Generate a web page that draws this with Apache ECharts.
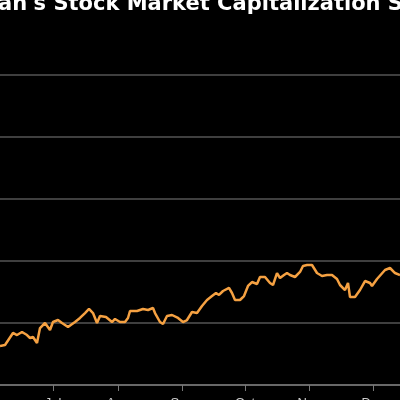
<!DOCTYPE html>
<html><head><meta charset="utf-8">
<script src="https://cdn.jsdelivr.net/npm/echarts@6/dist/echarts.min.js"></script>
<style>html,body{margin:0;background:#000}#c{width:400px;height:400px}</style>
</head><body><div id="c"></div>
<script>
const xs=[0,5,13,17,22,27,30,33,37,40,45,50,53,58,62,68,75,80,85,89,93,97,100,106,112,115,120,125,128,130,137,143,148,153,155,160,163,167,172,178,183,187,192,197,202,207,212,216,219,223,229,232,235,240,244,248,252,257,260,265,270,273,277,280,284,287,290,295,300,303,307,312,317,322,327,332,337,340,345,348,350,355,360,365,370,372,377,385,390,395,400];
const ys=[346,345,333,335,332,335,338,337,343,328,323,330,322,320,323,327,322,318,313,309,313,323,316,317,322,319,322,322,318,311,311,309,310,308,313,322,324,316,315,318,322,320,312,313,306,300,296,293,295,291,288,293,300,300,296,286,282,284,277,277,283,285,273,278,275,273,275,277,272,266,265,265,273,276,275,275,279,285,290,283,297,297,290,281,283,286,279,270,268,273,275];
const values=ys.map(y=>+((385-y)/62).toFixed(3));
const tickPos=[53,118,182,245,309,373];
const tickLabels=['Jul','Aug','Sep','Oct','Nov','Dec'];
const chart=echarts.init(document.getElementById('c'));
chart.setOption({
 backgroundColor:'#000',animation:false,
 title:{text:"Japan's Stock Market Capitalization Surpasses",left:-44,top:-11,textStyle:{color:'#fff',fontSize:21,fontWeight:'bold',fontFamily:'DejaVu Sans'}},
 grid:{left:0,right:0,top:75,bottom:15,outerBoundsMode:'none',containLabel:false},
 xAxis:{type:'value',min:0,max:400,splitLine:{show:false},
  axisLine:{lineStyle:{color:'#777',width:1.5}},
  axisTick:{customValues:tickPos,length:6,inside:false,lineStyle:{color:'#777'}},
  axisLabel:{customValues:tickPos,formatter:v=>tickLabels[tickPos.indexOf(v)],color:'#ccc',fontSize:13,margin:12}},
 yAxis:{type:'value',min:0,max:5,interval:1,axisLabel:{show:false},axisLine:{show:false},axisTick:{show:false},
  splitLine:{lineStyle:{color:'#555',width:1.5}}},
 series:[{type:'line',data:xs.map((x,i)=>[x,values[i]]),symbol:'none',lineStyle:{color:'#f5a142',width:2.5}}]
});
</script></body></html>
